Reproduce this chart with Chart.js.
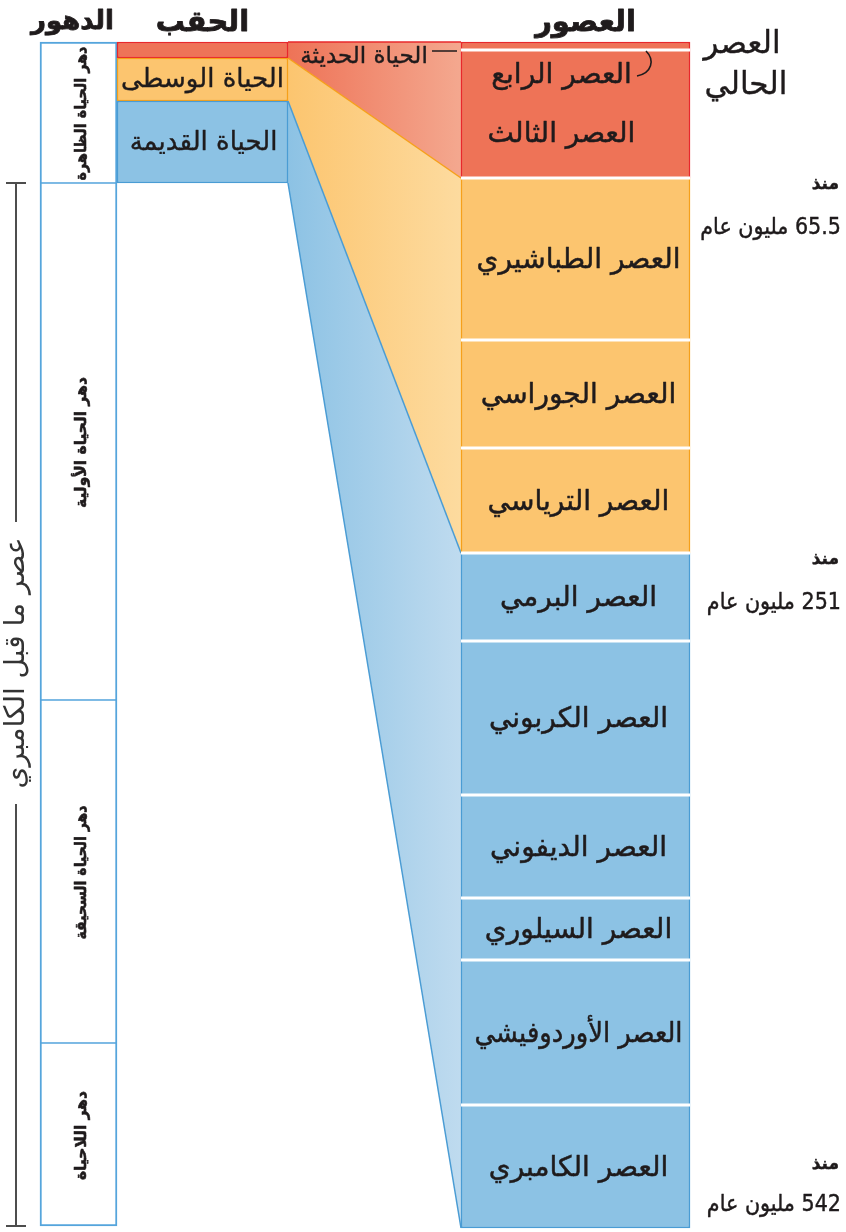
<!DOCTYPE html>
<html lang="ar">
<head>
<meta charset="utf-8">
<script src="https://cdn.jsdelivr.net/npm/chart.js@4.4.1/dist/chart.umd.min.js"></script>
<style>
  html, body { margin: 0; padding: 0; background: #ffffff; }
  #wrap { width: 846px; height: 1232px; position: relative; }
</style>
</head>
<body>
<div id="wrap"><canvas id="c"></canvas></div>
<script>
// ---- Data (schematic depth units, 0 = present, growing downwards) ----
const eonNames  = ['دهر الحياة الظاهرة', 'دهر الحياة الأولية', 'دهر الحياة السحيقة', 'دهر اللاحياة'];
const eonSpans  = [141, 517, 343, 183];

const eraNames  = ['الحياة الحديثة', 'الحياة الوسطى', 'الحياة القديمة'];
const eraSpans  = [16, 43, 82];

const periodNames = ['العصر الحالي', 'العصر الرابع', 'العصر الثالث', 'العصر الطباشيري', 'العصر الجوراسي',
                     'العصر الترياسي', 'العصر البرمي', 'العصر الكربوني', 'العصر الديفوني', 'العصر السيلوري',
                     'العصر الأوردوفيشي', 'العصر الكامبري'];
const periodSpans = [8, 48, 80, 162, 108, 105, 88, 154, 103, 62, 145, 123];
const periodEra   = [0, 0, 0, 1, 1, 1, 2, 2, 2, 2, 2, 2];
// boundaries without a white separating line (Quaternary / Tertiary share one box)
const joinedAfter = [1];

const ageLabels = ['65.5', '251', '542'];
const ageAfterPeriod = [2, 5, 11];

const headers = ['الدهور', 'الحقب', 'العصور'];
const bracketLabel = 'عصر ما قبل الكامبري';
const presentLabel = ['العصر', 'الحالي'];
const sinceWord = 'منذ';
const unitWords = 'مليون عام';

// ---- helpers ----
function bounds(spans) { const b = [0]; spans.forEach(s => b.push(b[b.length - 1] + s)); return b; }
const eonB = bounds(eonSpans), eraB = bounds(eraSpans), perB = bounds(periodSpans);

// layout (pixel-like x units)
const COL = { eon: { c: 78.5, w: 77 }, era: { c: 202.5, w: 171 }, per: { c: 575.5, w: 229 } };
const CONN_L = 288, CONN_R = 461;

const FILL   = ['#ee7357', '#fcc56f', '#8cc2e4'];
const BORDER = ['#e8282b', '#f6a01a', '#4a9cd4'];
const GRAD   = [['#ee7357', '#f4a88f'], ['#fcc56f', '#fddb9f'], ['#8cc2e4', '#bfdbef']];
const EON_BORDER = '#55a5dc';
const INK = '#1f1b1c';
const FONT = '"DejaVu Sans", sans-serif';

function gradFor(i) {
  return (context) => {
    const chart = context.chart;
    if (!chart.chartArea) return FILL[i];
    const x = chart.scales.x;
    const g = chart.ctx.createLinearGradient(x.getPixelForValue(CONN_L), 0, x.getPixelForValue(CONN_R), 0);
    g.addColorStop(0, GRAD[i][0]);
    g.addColorStop(1, GRAD[i][1]);
    return g;
  };
}

const eonData = eonSpans.map((s, i) => ({ x: COL.eon.c, y: [eonB[i], eonB[i + 1]] }));
const eraData = eraSpans.map((s, i) => ({ x: COL.era.c, y: [eraB[i], eraB[i + 1]] }));
const perData = periodSpans.map((s, i) => ({ x: COL.per.c, y: [perB[i], perB[i + 1]] }));
const sepData = perB.slice(1, -1)
  .map((b, i) => ({ b, i }))
  .filter(o => !joinedAfter.includes(o.i))
  .map(o => ({ x: COL.per.c, y: o.b }));

// connector edges: era boundary on the left, period boundary on the right
const edgePairs = [[eraB[0], perB[0]], [eraB[1], perB[3]], [eraB[2], perB[6]], [eraB[3], perB[12]]];
const edgeColors = [BORDER[0], BORDER[1], BORDER[2], BORDER[2]];
const edgeSets = edgePairs.map((p, i) => ({
  type: 'line',
  data: [{ x: CONN_L, y: p[0] }, { x: CONN_R, y: p[1] }],
  borderColor: edgeColors[i],
  borderWidth: 1.5,
  pointRadius: 0,
  tension: 0,
  fill: i < 3 ? '+1' : false,
  backgroundColor: i < 3 ? gradFor(i) : 'transparent'
}));

function txt(ctx, s, x, y, stroke, maxW) {
  if (maxW) ctx.fillText(s, x, y, maxW); else ctx.fillText(s, x, y);
  if (stroke) {
    ctx.lineWidth = stroke; ctx.strokeStyle = ctx.fillStyle;
    if (maxW) ctx.strokeText(s, x, y, maxW); else ctx.strokeText(s, x, y);
  }
}

const labelPlugin = {
  id: 'geoLabels',
  afterDatasetsDraw(chart) {
    const ctx = chart.ctx;
    const X = v => chart.scales.x.getPixelForValue(v);
    const Y = v => chart.scales.y.getPixelForValue(v);
    ctx.save();
    ctx.direction = 'rtl';
    ctx.fillStyle = INK;
    ctx.textBaseline = 'middle';
    ctx.textAlign = 'center';
    ctx.lineJoin = 'round';

    // headers
    ctx.font = 'bold 26px ' + FONT;
    txt(ctx, headers[0], X(COL.eon.c - 6), Y(-20), 0.8);
    ctx.font = 'bold 29px ' + FONT;
    txt(ctx, headers[1], X(COL.era.c), Y(-19), 0.8);
    txt(ctx, headers[2], X(COL.per.c + 10), Y(-19), 0.8);

    // eon labels (rotated)
    ctx.font = 'bold 15.5px ' + FONT;
    eonNames.forEach((n, i) => {
      ctx.save();
      ctx.translate(X(COL.eon.c + 3), Y((eonB[i] + eonB[i + 1]) / 2 + 1));
      ctx.rotate(-Math.PI / 2);
      txt(ctx, n, 0, 0, 0.6, 134);
      ctx.restore();
    });

    // era labels
    ctx.font = '26px ' + FONT;
    txt(ctx, eraNames[1], X(COL.era.c), Y((eraB[1] + eraB[2]) / 2 + 1), 0.4);
    txt(ctx, eraNames[2], X(COL.era.c + 1), Y((eraB[2] + eraB[3]) / 2 + 1), 0.4);
    ctx.font = '23px ' + FONT;
    txt(ctx, eraNames[0], X(364), Y(15), 0.4);
    ctx.strokeStyle = INK; ctx.lineWidth = 1.5;
    ctx.beginPath(); ctx.moveTo(X(432), Y(9)); ctx.lineTo(X(457), Y(9)); ctx.stroke();

    // period labels
    ctx.font = '28px ' + FONT;
    periodNames.forEach((n, i) => {
      if (i === 0) return;
      const cx = (i <= 2) ? COL.per.c - 14 : COL.per.c + 3;
      const dy = (i === 2) ? -3 : 2;
      txt(ctx, n, X(cx), Y((perB[i] + perB[i + 1]) / 2 + dy), 0.5, 208);
    });

    // curly pointer from Quaternary label to present strip
    ctx.strokeStyle = INK; ctx.lineWidth = 1.6;
    ctx.beginPath();
    ctx.moveTo(X(637), Y(34));
    ctx.bezierCurveTo(X(652), Y(31), X(655), Y(18), X(646), Y(9));
    ctx.stroke();

    // present label
    ctx.font = '31px ' + FONT;
    ctx.textAlign = 'center';
    txt(ctx, presentLabel[0], X(742), Y(3), 0.4);
    txt(ctx, presentLabel[1], X(746), Y(44), 0.4);

    // ages
    ageLabels.forEach((a, k) => {
      const b = perB[ageAfterPeriod[k] + 1];
      const below = k < 2;
      const y1 = below ? b + 7 : b - 63;
      const y2 = below ? b + 50 : b - 23;
      ctx.textAlign = 'right';
      ctx.font = 'bold 17px ' + FONT;
      txt(ctx, sinceWord, X(839), Y(y1), 0.5);
      ctx.font = '23px "DejaVu Sans Condensed", ' + FONT;
      txt(ctx, a + ' ' + unitWords, X(841), Y(y2), 0.4);
    });

    // Precambrian bracket
    const top = eonB[1], bot = eonB[4];
    const mid = 621;
    ctx.strokeStyle = '#4d4d4d'; ctx.lineWidth = 2;
    ctx.beginPath();
    ctx.moveTo(X(16), Y(top)); ctx.lineTo(X(16), Y(mid - 141));
    ctx.moveTo(X(16), Y(mid + 141)); ctx.lineTo(X(16), Y(bot));
    ctx.moveTo(X(6), Y(top)); ctx.lineTo(X(26), Y(top));
    ctx.moveTo(X(6), Y(bot)); ctx.lineTo(X(26), Y(bot));
    ctx.stroke();
    ctx.save();
    ctx.translate(X(17), Y(mid));
    ctx.rotate(-Math.PI / 2);
    ctx.textAlign = 'center';
    ctx.font = '28px ' + FONT;
    ctx.fillStyle = '#333';
    txt(ctx, bracketLabel, 0, 0, 0);
    ctx.restore();

    ctx.restore();
  }
};

const borderBox = (n, w, inner) => (c) => ({
  left: w, right: w,
  top: c.dataIndex === 0 ? w : inner,
  bottom: c.dataIndex === n - 1 ? w : inner
});

new Chart(document.getElementById('c'), {
  type: 'bar',
  data: {
    datasets: [
      {
        type: 'scatter',
        data: sepData,
        pointStyle: 'line',
        pointRadius: COL.per.w / 2,
        pointBorderColor: '#ffffff',
        pointBorderWidth: 3,
        pointBackgroundColor: '#ffffff',
        clip: false
      },
      {
        data: perData,
        grouped: false,
        barThickness: COL.per.w,
        backgroundColor: periodEra.map(e => FILL[e]),
        borderColor: periodEra.map(e => BORDER[e]),
        borderWidth: borderBox(periodSpans.length, 1.5, 0),
        borderSkipped: false
      },
      {
        data: eraData,
        grouped: false,
        barThickness: COL.era.w,
        backgroundColor: FILL,
        borderColor: BORDER,
        borderWidth: { left: 1.5, right: 1.5, top: 1.5, bottom: 1.5 },
        borderSkipped: false
      },
      {
        data: eonData,
        grouped: false,
        barThickness: COL.eon.w,
        backgroundColor: '#ffffff',
        borderColor: EON_BORDER,
        borderWidth: borderBox(eonSpans.length, 2, 1),
        borderSkipped: false
      },
      ...edgeSets
    ]
  },
  options: {
    responsive: true,
    maintainAspectRatio: false,
    animation: false,
    events: [],
    layout: { padding: 0, autoPadding: false },
    scales: {
      x: { type: 'linear', min: 0, max: 846, display: false, offset: false },
      y: { type: 'linear', min: -42, max: 1190, reverse: true, display: false }
    },
    plugins: {
      legend: { display: false },
      tooltip: { enabled: false },
      filler: { drawTime: 'beforeDatasetsDraw' }
    }
  },
  plugins: [labelPlugin]
});
</script>
</body>
</html>
